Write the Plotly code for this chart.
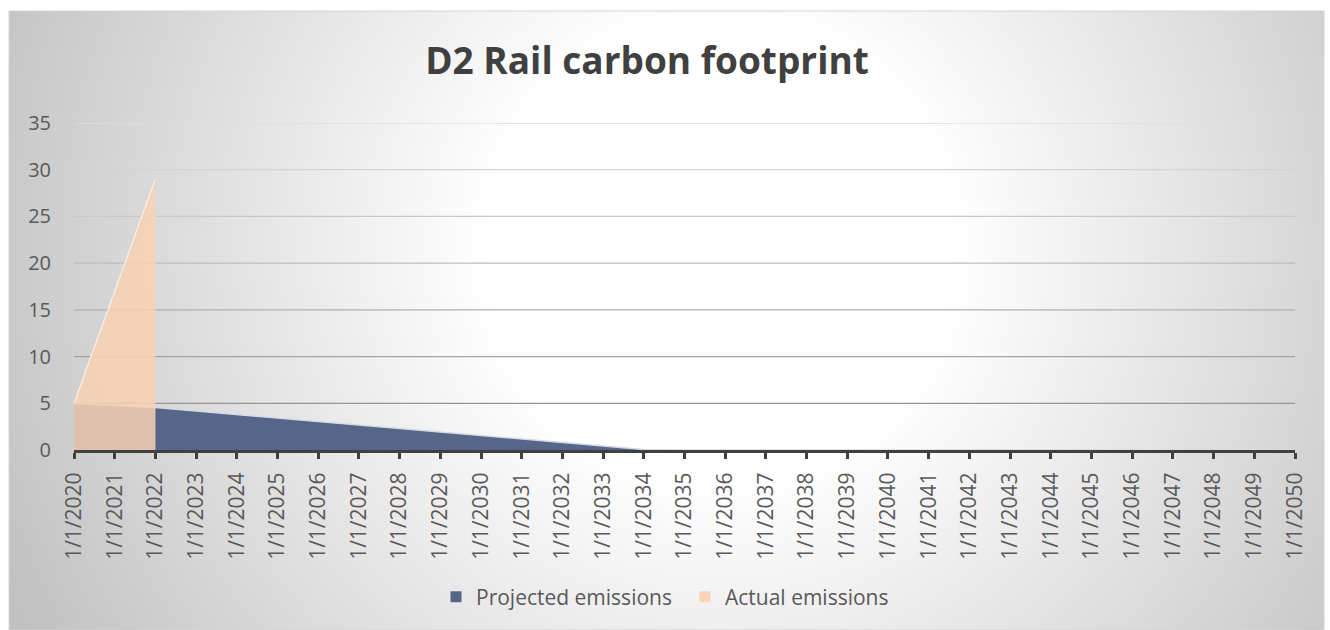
import base64
import struct
import zlib

import numpy as np
import plotly.graph_objects as go

# ---------------- data ----------------
dates = [
    "2020-01-01", "2021-01-01", "2022-01-01", "2023-01-01", "2024-01-01",
    "2025-01-01", "2026-01-01", "2027-01-01", "2028-01-01", "2029-01-01",
    "2030-01-01", "2031-01-01", "2032-01-01", "2033-01-01", "2034-01-01",
    "2035-01-01", "2036-01-01", "2037-01-01", "2038-01-01", "2039-01-01",
    "2040-01-01", "2041-01-01", "2042-01-01", "2043-01-01", "2044-01-01",
    "2045-01-01", "2046-01-01", "2047-01-01", "2048-01-01", "2049-01-01",
    "2050-01-01",
]
projected = [
    5.0, 4.8, 4.55, 4.17, 3.8, 3.42, 3.05, 2.67, 2.3, 1.92,
    1.55, 1.17, 0.8, 0.42, 0.05, 0, 0, 0, 0, 0,
    0, 0, 0, 0, 0, 0, 0, 0, 0, 0,
    0,
]
actual_dates = ["2020-01-01", "2021-01-01", "2022-01-01"]
actual = [5.0, 17.0, 29.0]

y_ticks = [0, 5, 10, 15, 20, 25, 30, 35]
grid_vals = [5, 10, 15, 20, 25, 30, 35]
grid_colors = ["#959595", "#a3a3a3", "#b0b0b0", "#bdbdbd", "#c8c8c8", "#d3d3d3", "#dedede"]

title_text = "D2 Rail carbon footprint"
series_names = ["Projected emissions", "Actual emissions"]

# ---------------- background gradient (style only) ----------------
W, H = 1315, 619
BOX_X, BOX_Y = 9, 11
yy, xx = np.mgrid[0:H, 0:W]
d = np.hypot(xx + BOX_X - 720, yy + BOX_Y - 250)
t = np.clip((d - 230) / 560.0, 0, 1)
v = (255 - 62 * t).round().astype(np.uint8)
img = np.stack([v, v, v], axis=-1)


def png_uri(a):
    h, w, _ = a.shape
    raw = b"".join(b"\x00" + a[i].tobytes() for i in range(h))

    def chunk(tag, data):
        return (struct.pack(">I", len(data)) + tag + data
                + struct.pack(">I", zlib.crc32(tag + data) & 0xFFFFFFFF))

    png = (b"\x89PNG\r\n\x1a\n"
           + chunk(b"IHDR", struct.pack(">IIBBBBB", w, h, 8, 2, 0, 0, 0))
           + chunk(b"IDAT", zlib.compress(raw, 9))
           + chunk(b"IEND", b""))
    return "data:image/png;base64," + base64.b64encode(png).decode()


# ---------------- layout geometry ----------------
FIG_W, FIG_H = 1330, 630
ML, MR, MT, MB = 74, 35, 123, 180
PW = FIG_W - ML - MR
PH = FIG_H - MT - MB

BLUE = "#566688"
PEACH_FILL = "rgba(248,209,181,0.85)"
TEXT = "#595959"
FONT = "Open Sans"

fig = go.Figure()

fig.add_trace(go.Scatter(
    x=dates, y=projected, mode="lines", fill="tozeroy",
    fillcolor=BLUE, line=dict(color="#d5dbe6", width=1.5),
    name=series_names[0], showlegend=False, hoverinfo="x+y",
))
fig.add_trace(go.Scatter(
    x=actual_dates, y=actual, mode="lines", fill="tozeroy",
    fillcolor=PEACH_FILL, line=dict(color="rgba(255,244,236,0.9)", width=1.2),
    name=series_names[1], showlegend=False, hoverinfo="x+y",
))
# legend entries (square keys like the original)
fig.add_trace(go.Scatter(
    x=[None], y=[None], mode="markers", name=series_names[0],
    marker=dict(symbol="square", size=11, color=BLUE), showlegend=True,
))
fig.add_trace(go.Scatter(
    x=[None], y=[None], mode="markers", name=series_names[1],
    marker=dict(symbol="square", size=11, color="#f8d3b8"), showlegend=True,
))

shapes = []
for gv, gc in zip(grid_vals, grid_colors):
    shapes.append(dict(type="line", xref="paper", x0=0, x1=1, yref="y", y0=gv, y1=gv,
                       line=dict(color=gc, width=1.3), layer="below"))
shapes.append(dict(type="rect", xref="paper", yref="paper",
                   x0=(BOX_X - ML) / PW, x1=(BOX_X + W - ML) / PW,
                   y0=(FIG_H - MB - BOX_Y) / PH, y1=(FIG_H - MB - BOX_Y - H) / PH,
                   line=dict(color="#d4d4d4", width=1), layer="below"))

fig.update_layout(
    width=FIG_W, height=FIG_H,
    margin=dict(l=ML, r=MR, t=MT, b=MB),
    paper_bgcolor="white",
    plot_bgcolor="rgba(0,0,0,0)",
    images=[dict(source=png_uri(img), xref="paper", yref="paper",
                 x=(BOX_X - ML) / PW, y=(FIG_H - MB - BOX_Y) / PH,
                 sizex=W / PW, sizey=H / PH, xanchor="left", yanchor="top",
                 sizing="stretch", layer="below")],
    shapes=shapes,
    title=dict(text=title_text, x=647 / FIG_W, xref="container", xanchor="center",
               y=1 - 61 / FIG_H, yref="container", yanchor="middle",
               font=dict(family=FONT, size=37, color="#404040", weight="bold")),
    xaxis=dict(
        type="date", range=[dates[0], dates[-1]], tick0=dates[0], dtick="M12",
        tickformat="%-m/%-d/%Y", tickangle=-90,
        ticks="outside", ticklen=6, tickwidth=3, tickcolor="#404040",
        showline=True, linecolor="#404040", linewidth=3,
        showgrid=False, zeroline=False, ticklabelstandoff=5,
        tickfont=dict(family=FONT, size=21, color=TEXT),
    ),
    yaxis=dict(
        range=[0, 35], tickvals=y_ticks, showgrid=False, zeroline=False,
        showline=False, ticks="", ticklabelstandoff=22,
        tickfont=dict(family=FONT, size=20, color=TEXT),
    ),
    legend=dict(orientation="h", x=436 / FIG_W, xref="container", xanchor="left",
                y=1 - 597 / FIG_H, yref="container", yanchor="middle",
                entrywidth=204, entrywidthmode="pixels",
                bgcolor="rgba(0,0,0,0)", font=dict(family=FONT, size=21, color=TEXT)),
    showlegend=True,
)

fig.write_html("out.html", config={"displayModeBar": False},
               post_script="document.body.style.margin='0';")
